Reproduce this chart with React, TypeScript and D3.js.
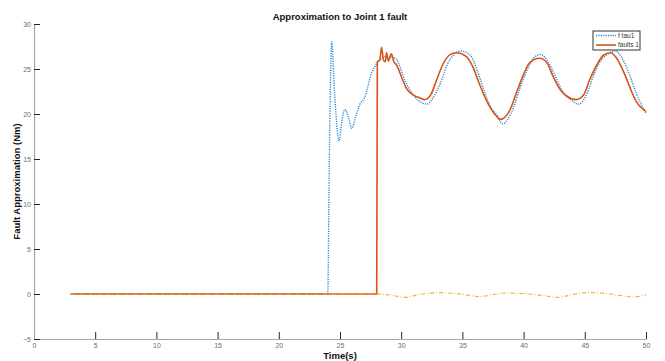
import React, { useEffect, useRef } from 'react';
import * as d3 from 'd3';

// time (s) / torque (Nm)
const tauTime = [3, 24.0, 24.12, 24.32, 24.55, 24.92, 25.15, 25.4, 25.7, 25.96, 26.3, 26.6, 27.0, 27.6, 28.1, 28.8, 29.5,
  30.45, 31.0, 31.5, 32.1, 32.6, 33.2, 33.7, 34.3, 34.9, 35.6, 36.2, 36.7, 37.3, 37.8, 38.3, 38.7, 39.2, 39.7, 40.3, 40.8,
  41.4, 42.0, 42.6, 43.1, 43.7, 44.5, 45.2, 45.7, 46.2, 46.8, 47.5, 48.2, 48.7, 49.2, 50];
const tauValues = [0, 0, 14, 28.0, 22.5, 17.0, 19.2, 20.5, 19.6, 18.4, 19.8, 21.0, 21.8, 24.6, 25.8, 26.4, 26.2,
  23.3, 22.1, 21.4, 21.1, 21.8, 23.4, 25.3, 26.6, 27.0, 26.6, 24.9, 22.9, 20.8, 19.9, 18.9, 19.4, 20.8, 22.9, 24.9, 26.2,
  26.6, 25.8, 24.2, 22.7, 21.8, 21.1, 22.3, 24.2, 25.7, 26.6, 27.0, 25.8, 24.2, 22.3, 20.1];

const faultTime = [3, 28.0, 28.05, 28.25, 28.4, 28.55, 28.7, 28.8, 28.95, 29.2, 29.4, 29.6, 30.0, 30.4, 31.0, 31.5, 31.9,
  32.4, 32.9, 33.4, 34.0, 34.5, 35.3, 35.9, 36.4, 37.0, 37.7, 38.1, 38.9, 39.4, 40.0, 40.5, 41.3, 41.9, 42.4, 43.0, 43.5,
  44.3, 44.9, 45.4, 46.0, 46.5, 47.1, 47.6, 48.2, 48.7, 49.2, 50];
const faultValues = [0, 0, 25.8, 26.0, 27.4, 26.0, 25.8, 26.8, 25.9, 26.7, 25.8, 25.5, 24.2, 22.9, 22.1, 21.8, 21.6,
  22.1, 23.8, 25.5, 26.6, 26.8, 26.4, 25.1, 23.3, 21.4, 19.9, 19.4, 20.5, 22.3, 24.4, 25.7, 26.2, 25.7, 24.2, 22.7, 22.0,
  21.6, 22.1, 23.8, 25.5, 26.5, 26.8, 26.2, 24.6, 22.9, 21.4, 20.3];

const errTime = [3, 28.0, 29.0, 30.3, 31.5, 33.2, 34.8, 36.4, 37.5, 38.6, 40.0, 41.5, 42.8, 44.0, 45.2, 46.5, 48.0, 49.0, 50];
const errValues = [0, 0, -0.1, -0.37, -0.05, 0.15, 0.0, -0.29, -0.05, 0.11, 0.05, -0.15, -0.37, -0.05, 0.15, 0.1, -0.2, -0.33, -0.07];

const xTicks = [0, 5, 10, 15, 20, 25, 30, 35, 40, 45, 50];
const yTicks = [-5, 0, 5, 10, 15, 20, 25, 30];
const legendLabels = ['f tau1', 'faults 1'];

const W = 665, H = 361;
const margin = { left: 34, right: 19, top: 24, bottom: 22 };
const font = 'Arial, "Liberation Sans", Helvetica, sans-serif';

function Chart() {
  const ref = useRef<SVGSVGElement>(null);

  useEffect(() => {
    const svg = d3.select(ref.current);
    svg.selectAll('*').remove();

    const x = d3.scaleLinear().domain([0, 50]).range([margin.left, W - margin.right]);
    const y = d3.scaleLinear().domain([-5, 30]).range([H - margin.bottom, margin.top]);
    const y0 = H - margin.bottom;

    // axes, ticks pointing inward like matlab
    const xAxis = svg.append('g').attr('transform', `translate(0,${y0})`)
      .call(d3.axisBottom(x).tickValues(xTicks).tickSizeInner(-7).tickSizeOuter(0).tickPadding(4.5));
    const yAxis = svg.append('g').attr('transform', `translate(${margin.left},0)`)
      .call(d3.axisLeft(y).tickValues(yTicks).tickSizeInner(-6).tickSizeOuter(0).tickPadding(3));

    [xAxis, yAxis].forEach(a => {
      a.select('.domain').attr('stroke', '#a6a6a6').attr('stroke-width', 1.2);
      a.selectAll('.tick line').attr('stroke', '#262626');
      a.selectAll('.tick text').attr('fill', '#6e6e6e').attr('font-size', 7).attr('font-family', font);
    });

    const line = (xs: number[], ys: number[]) => d3.line<number>()
      .x((d, i) => x(xs[i]))
      .y(d => y(d))
      .curve(d3.curveMonotoneX)(ys);

    svg.append('path').attr('d', line(tauTime, tauValues))
      .attr('fill', 'none').attr('stroke', '#2a86cf').attr('stroke-width', 1.4)
      .attr('stroke-dasharray', '1.2 1.2');

    svg.append('path').attr('d', line(faultTime, faultValues))
      .attr('fill', 'none').attr('stroke', '#D95319').attr('stroke-width', 1.6);

    // third trace sits on top (plotted last)
    svg.append('path').attr('d', line(errTime, errValues))
      .attr('fill', 'none').attr('stroke', '#EDB120').attr('stroke-width', 1.1)
      .attr('stroke-dasharray', '4 2 1 2');

    // title + labels
    svg.append('text').text('Approximation to Joint 1 fault')
      .attr('x', (margin.left + W - margin.right) / 2).attr('y', 20)
      .attr('text-anchor', 'middle').attr('font-weight', 'bold').attr('font-size', 9.5)
      .attr('font-family', font).attr('fill', '#111');
    svg.append('text').text('Time(s)')
      .attr('x', (margin.left + W - margin.right) / 2).attr('y', 359)
      .attr('text-anchor', 'middle').attr('font-weight', 'bold').attr('font-size', 9.5)
      .attr('font-family', font).attr('fill', '#111');
    svg.append('text').text('Fault Approximation (Nm)')
      .attr('transform', `translate(20,${(margin.top + y0) / 2}) rotate(-90)`)
      .attr('text-anchor', 'middle').attr('font-weight', 'bold').attr('font-size', 9.5)
      .attr('font-family', font).attr('fill', '#111');

    // legend
    const lg = svg.append('g').attr('transform', 'translate(593,31)');
    lg.append('rect').attr('width', 47).attr('height', 19)
      .attr('fill', '#fff').attr('stroke', '#333').attr('stroke-width', 1);
    const styles = [
      { stroke: '#2a86cf', w: 1.4, dash: '1.2 1.2' },
      { stroke: '#D95319', w: 1.6, dash: null },
    ];
    legendLabels.forEach((lab, i) => {
      const ly = 4.5 + i * 9.5;
      lg.append('line').attr('x1', 3).attr('x2', 23).attr('y1', ly).attr('y2', ly)
        .attr('stroke', styles[i].stroke).attr('stroke-width', styles[i].w)
        .attr('stroke-dasharray', styles[i].dash);
      lg.append('text').text(lab).attr('x', 25).attr('y', ly + 2.3)
        .attr('font-size', 6.5).attr('font-family', font).attr('fill', '#333');
    });
  }, []);

  return <svg ref={ref} width={W} height={H} style={{ position: 'absolute', left: 0, top: 0, background: '#fff' }} />;
}

export default function App() {
  return <Chart />;
}
